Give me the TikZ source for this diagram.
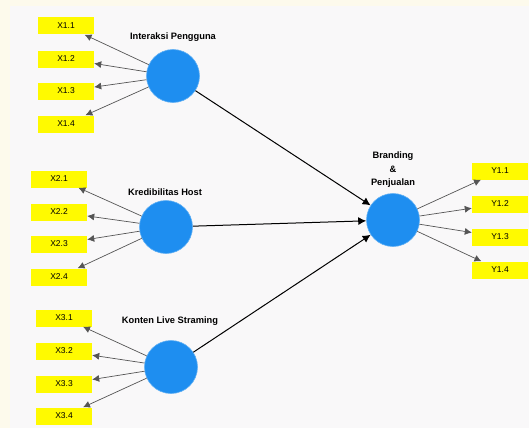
\documentclass[tikz,border=0pt]{standalone}
\usepackage{fontspec}
\setmainfont{Liberation Sans}
\usepackage{tikz}
\usetikzlibrary{arrows.meta}
\definecolor{latent}{RGB}{30, 142, 240}
\definecolor{indic}{RGB}{255, 250, 0}
\definecolor{panel}{RGB}{249, 248, 249}
\definecolor{cream}{RGB}{253, 250, 236}
\definecolor{loadline}{RGB}{85, 85, 85}

\tikzset{
  latentvar/.style={circle, fill=latent, draw=latent!70, line width=0.6, minimum size=53, inner sep=0},
  indbox/.style={fill=indic, minimum width=56, minimum height=17, inner sep=0,
    font=\fontsize{8.5}{9}\selectfont},
  latlabel/.style={font=\bfseries\fontsize{9.3}{13.5}\selectfont, align=center},
  loading/.style={draw=loadline, line width=0.7, -{Latex[length=7, width=7]}},
  path/.style={draw=black, line width=1, -{Latex[length=8, width=8]}}
}

\begin{document}
\begin{tikzpicture}[x=1pt, y=-1pt]
  \fill[cream] (0, 0) rectangle (529, 428);
  \fill[panel] (10, 6) rectangle (529, 428);
  \useasboundingbox (0, 0) rectangle (529, 428);

  \node[latentvar] (inter) at (173, 76) {};
  \node[latlabel] (interlbl) at (173, 37) {Interaksi Pengguna};
  \node[indbox] (x11) at (66, 26) {X1.1};
  \node[indbox] (x12) at (66, 59) {X1.2};
  \node[indbox] (x13) at (66, 91) {X1.3};
  \node[indbox] (x14) at (66, 124) {X1.4};
  \draw[loading] (inter) -- (x11);
  \draw[loading] (inter) -- (x12);
  \draw[loading] (inter) -- (x13);
  \draw[loading] (inter) -- (x14);

  \node[latentvar] (kred) at (166, 227) {};
  \node[latlabel] (kredlbl) at (165, 192) {Kredibilitas Host};
  \node[indbox] (x21) at (59, 179) {X2.1};
  \node[indbox] (x22) at (59, 212) {X2.2};
  \node[indbox] (x23) at (59, 244) {X2.3};
  \node[indbox] (x24) at (59, 277) {X2.4};
  \draw[loading] (kred) -- (x21);
  \draw[loading] (kred) -- (x22);
  \draw[loading] (kred) -- (x23);
  \draw[loading] (kred) -- (x24);

  \node[latentvar] (konten) at (171, 367) {};
  \node[latlabel] (kontenlbl) at (170, 321) {Konten Live Straming};
  \node[indbox] (x31) at (64, 318) {X3.1};
  \node[indbox] (x32) at (64, 351) {X3.2};
  \node[indbox] (x33) at (64, 384) {X3.3};
  \node[indbox] (x34) at (64, 416) {X3.4};
  \draw[loading] (konten) -- (x31);
  \draw[loading] (konten) -- (x32);
  \draw[loading] (konten) -- (x33);
  \draw[loading] (konten) -- (x34);

  \node[latentvar] (brand) at (393, 220) {};
  \node[latlabel] (brandlbl) at (393, 170) {Branding\\\&\\Penjualan};
  \node[indbox] (y11) at (500, 171) {Y1.1};
  \node[indbox] (y12) at (500, 204) {Y1.2};
  \node[indbox] (y13) at (500, 237) {Y1.3};
  \node[indbox] (y14) at (500, 270) {Y1.4};
  \draw[loading] (brand) -- (y11);
  \draw[loading] (brand) -- (y12);
  \draw[loading] (brand) -- (y13);
  \draw[loading] (brand) -- (y14);

  \draw[path] (inter) -- (brand);
  \draw[path] (kred) -- (brand);
  \draw[path] (konten) -- (brand);
\end{tikzpicture}
\end{document}
